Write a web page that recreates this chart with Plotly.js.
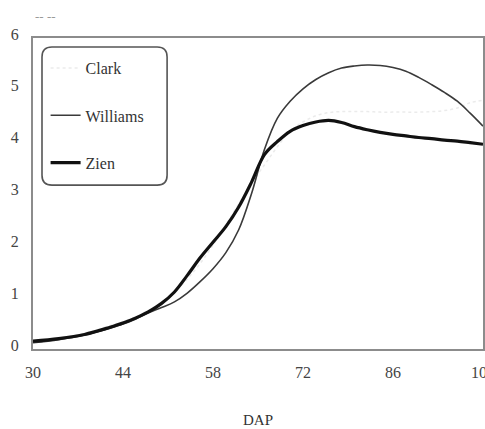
<!DOCTYPE html>
<html>
<head>
<meta charset="utf-8">
<script src="https://cdn.plot.ly/plotly-3.0.1.min.js"></script>
<style>
  html, body { margin: 0; padding: 0; background: #fff; }
  #chart { width: 485px; height: 429px; }
</style>
</head>
<body>
<div id="chart"></div>
<script>
// Days after planting (DAP)
const dap = [30, 34, 38, 42, 44, 46, 48, 50, 52, 54, 56, 58, 60, 62, 64, 66, 68, 70,
             72, 74, 76, 78, 80, 82, 84, 86, 88, 90, 92, 94, 96, 98, 100];

// Model curves, one value per DAP entry
const clark = [0.12, 0.20, 0.30, 0.45, 0.53, 0.62, 0.75, 0.90, 1.10, 1.35, 1.65, 2.00, 2.40, 2.80, 3.20, 3.55, 3.90, 4.20,
               4.38, 4.50, 4.56, 4.58, 4.58, 4.58, 4.57, 4.57, 4.57, 4.57, 4.58, 4.60, 4.65, 4.75, 4.80];
const williams = [0.12, 0.18, 0.27, 0.40, 0.48, 0.58, 0.70, 0.80, 0.91, 1.08, 1.30, 1.55, 1.86, 2.30, 3.00, 3.85, 4.45, 4.78,
                  5.02, 5.20, 5.33, 5.42, 5.46, 5.48, 5.47, 5.43, 5.36, 5.24, 5.10, 4.95, 4.78, 4.55, 4.30];
const zien = [0.15, 0.20, 0.28, 0.42, 0.50, 0.60, 0.72, 0.88, 1.10, 1.42, 1.76, 2.06, 2.36, 2.74, 3.22, 3.75, 4.00, 4.20,
              4.31, 4.38, 4.41, 4.37, 4.29, 4.23, 4.18, 4.14, 4.11, 4.08, 4.06, 4.03, 4.01, 3.98, 3.95];

const xTicks = [30, 44, 58, 72, 86, 100];
const yTicks = [0, 1, 2, 3, 4, 5, 6];

const serif = "'Liberation Serif', 'DejaVu Serif', serif";

const traces = [
  { x: dap, y: clark, name: 'Clark', mode: 'lines', legendgroup: 'c',
    line: { color: '#ebebeb', width: 1.5, dash: 'dot', shape: 'spline' } },
  { x: dap, y: williams, name: 'Williams', mode: 'lines', legendgroup: 'w',
    line: { color: '#3a3a3a', width: 1.6, shape: 'spline' } },
  { x: dap, y: zien, name: 'Zien', mode: 'lines', legendgroup: 'z',
    line: { color: '#111111', width: 3.2, shape: 'spline' } }
];

// rounded legend frame, paper coordinates
const lx0 = 0.020, lx1 = 0.298, ly0 = 0.527, ly1 = 0.971, rx = 0.022, ry = 0.032;
const framePath =
  `M ${lx0 + rx},${ly1} L ${lx1 - rx},${ly1} Q ${lx1},${ly1} ${lx1},${ly1 - ry} ` +
  `L ${lx1},${ly0 + ry} Q ${lx1},${ly0} ${lx1 - rx},${ly0} ` +
  `L ${lx0 + rx},${ly0} Q ${lx0},${ly0} ${lx0},${ly0 + ry} ` +
  `L ${lx0},${ly1 - ry} Q ${lx0},${ly1} ${lx0 + rx},${ly1} Z`;

const layout = {
  width: 485, height: 429,
  margin: { l: 33, r: 2, t: 38, b: 80 },
  paper_bgcolor: '#ffffff', plot_bgcolor: '#ffffff',
  font: { family: serif, color: '#444', size: 16 },
  showlegend: true,
  legend: {
    x: 0.028, y: 0.958, xanchor: 'left', yanchor: 'top',
    bgcolor: 'rgba(0,0,0,0)', borderwidth: 0,
    font: { family: serif, size: 16, color: '#333' },
    tracegroupgap: 23.5, itemwidth: 30
  },
  xaxis: {
    range: [30, 100], tickvals: xTicks, ticktext: xTicks.map(String),
    showgrid: false, zeroline: false, showline: true, mirror: true,
    linecolor: '#8c8c8c', linewidth: 2, ticks: '', ticklabelstandoff: 8,
    ticklabeloverflow: 'allow',
    tickfont: { family: serif, size: 16, color: '#444' },
    title: { text: 'DAP', font: { family: serif, size: 15, color: '#333' }, standoff: 34 }
  },
  yaxis: {
    range: [0, 6], tickvals: yTicks, ticktext: yTicks.map(String),
    showgrid: false, zeroline: false, showline: true, mirror: true,
    linecolor: '#8c8c8c', linewidth: 2, ticks: '', ticklabelstandoff: 9,
    ticklabelshift: -4,
    tickfont: { family: serif, size: 16, color: '#444' }
  },
  shapes: [
    { type: 'path', xref: 'paper', yref: 'paper', path: framePath,
      line: { color: '#555', width: 1.6 }, fillcolor: 'rgba(0,0,0,0)' }
  ],
  annotations: [
    { xref: 'paper', yref: 'paper', x: 0.0, y: 1.068, xanchor: 'left', yanchor: 'middle',
      text: '-- --', showarrow: false, font: { family: serif, size: 13, color: '#999' } }
  ]
};

Plotly.newPlot('chart', traces, layout, { displayModeBar: false, staticPlot: true });
</script>
</body>
</html>
